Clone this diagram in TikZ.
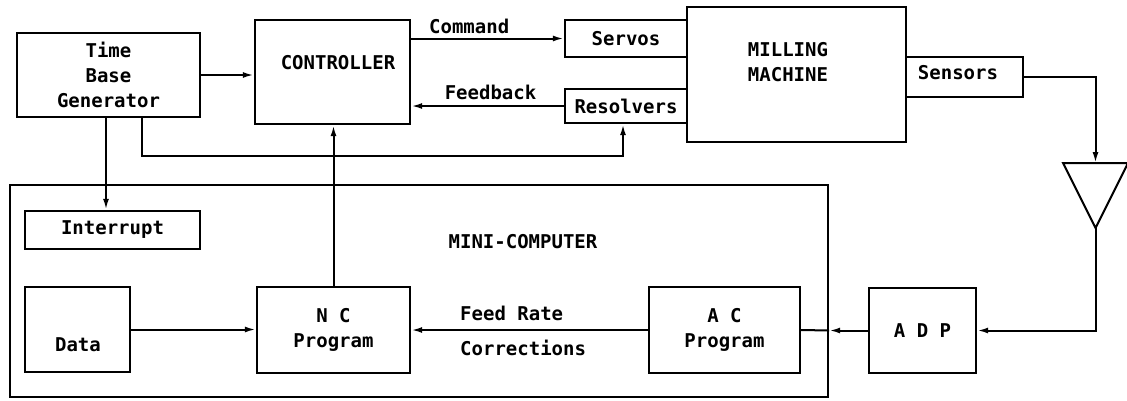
\documentclass[tikz,border=0pt]{standalone}
\usepackage{fontspec}
\usetikzlibrary{arrows.meta,calc}
\newfontfamily\dfont{DejaVu Sans Mono}
\begin{document}
\begin{tikzpicture}[x=1pt,y=-1pt,
  box/.style={draw,line width=2.4pt,inner sep=0pt,font=\dfont\bfseries\fontsize{19}{25}\selectfont,align=center},
  lbl/.style={inner sep=0pt,font=\dfont\bfseries\fontsize{19}{25}\selectfont,align=left},
  conn/.style={line width=2pt},
  arr/.style={conn,-{Latex[length=11pt,width=6pt]}}]
\useasboundingbox (0,0) rectangle (1127,400);
% top row
\node[box,minimum width=183pt,minimum height=84pt] (tbg) at (108.5,75) {Time\\Base\\Generator};
\node[box,minimum width=155pt,minimum height=104pt] (ctrl) at (332.5,72) {};
\node[lbl] (ctrltxt) at (338,63) {CONTROLLER};
\node[box,minimum width=122pt,minimum height=37pt] (serv) at (626,38.5) {Servos};
\node[box,minimum width=122pt,minimum height=34pt] (res) at (626,106) {Resolvers};
\node[box,minimum width=219pt,minimum height=135pt] (mill) at (796.5,74.5) {};
\node[lbl,align=center] (milltxt) at (788,62) {MILLING\\MACHINE};
\node[box,minimum width=117pt,minimum height=40pt] (sens) at (964.5,77) {};
\node[lbl] (senstxt) at (958,73) {Sensors};
% triangle
\coordinate (trileft) at (1063,163);
\coordinate (triright) at (1128,163);
\coordinate (tritop) at (1095.5,163);
\coordinate (triapex) at (1095.5,228);
\draw[line width=2pt,line join=miter] (trileft) -- (triright) -- (triapex) -- cycle;
% mini-computer
\node[box,minimum width=818pt,minimum height=212pt] (mini) at (419,291) {};
\node[lbl] (minitxt) at (523,242) {MINI-COMPUTER};
\node[box,minimum width=175pt,minimum height=38pt] (int) at (112.5,230) {Interrupt};
\node[box,minimum width=105pt,minimum height=85pt] (data) at (77.5,329.5) {};
\node[lbl] (datatxt) at (78,345) {Data};
\node[box,minimum width=153pt,minimum height=86pt] (nc) at (333.5,330) {N C\\Program};
\node[box,minimum width=151pt,minimum height=86pt] (ac) at (724.5,330) {A C\\Program};
\node[box,minimum width=107pt,minimum height=85pt] (adp) at (922.5,330.5) {A D P};
% connectors
\draw[arr] (tbg.east) -- (tbg.east -| ctrl.west);
\draw[arr] (ctrl.east |- serv.west) -- node[lbl,above=4pt,pos=0.38] {Command} (serv.west);
\draw[arr] (res.west) -- node[lbl,above=5pt,pos=0.48] {Feedback} (res.west -| ctrl.east);
\draw[arr] ([xshift=33.5pt]tbg.south) -- ++(0,38) -| ([xshift=-3pt]res.south);
\draw[arr] ([xshift=-2.5pt]tbg.south) -- ([xshift=-2.5pt]tbg.south |- int.north);
\draw[arr] (nc.north) -- (nc.north |- ctrl.south);
\draw[arr] (data.east) -- (data.east -| nc.west);
\draw[arr] (ac.west) -- (ac.west -| nc.east);
\node[lbl,anchor=west] (feedtxt) at (460,313) {Feed Rate};
\node[lbl,anchor=west] (corrtxt) at (460,348) {Corrections};
\coordinate (adpin) at (adp.west -| mini.east);
\draw[arr] (adp.west) -- (adpin);
\draw[conn] (adpin) -- (ac.east);
\draw[arr] (sens.east) -| (tritop);
\draw[arr] (triapex) |- (adp.east);
\end{tikzpicture}
\end{document}
